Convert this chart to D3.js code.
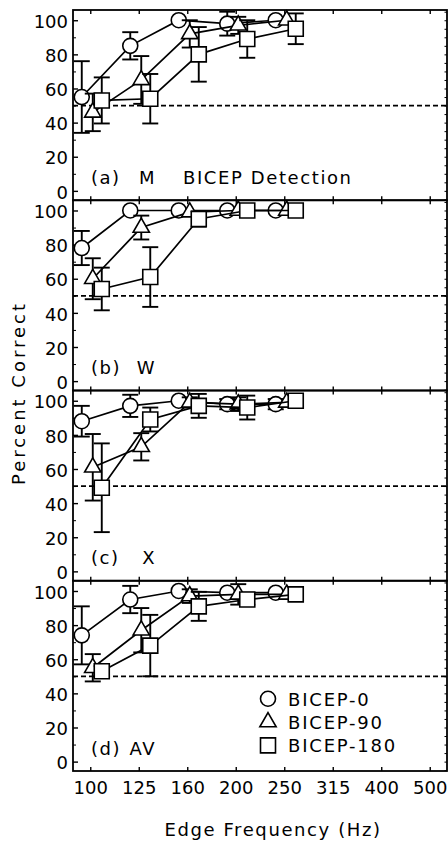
<!DOCTYPE html>
<html>
<head>
<meta charset="utf-8">
<script src="https://cdn.jsdelivr.net/npm/d3@7"></script>
<style>
  body { margin: 0; background: #fff; }
  svg { display: block; }
  text { font-family: "DejaVu Sans", sans-serif; fill: #000; }
</style>
</head>
<body>
<div id="chart"></div>
<script>
// --------------------------------------
//  Data
// --------------------------------------

const freqLabels = ["100", "125", "160", "200", "250", "315", "400", "500"];
const dataFreqs = ["100", "125", "160", "200", "250"];
const seriesNames = ["BICEP-0", "BICEP-90", "BICEP-180"];
const panelTags = ["(a)", "(b)", "(c)", "(d)"];
const subjects = ["M", "W", "X", "AV"];
const yTicks = [0, 20, 40, 60, 80, 100];

// percent correct (mean) and error bar half-length, per panel and series
const mVals0 = [55, 85, 100, 98, 100];
const mErr0 = [21, 8, 0, 7, 0];
const mVals90 = [46, 65, 92, 97, 100];
const mErr90 = [11, 14, 8, 5, 0];
const mVals180 = [53, 54, 80, 89, 95];
const mErr180 = [13.5, 14.5, 16, 11, 9];

const wVals0 = [78, 100, 100, 100, 100];
const wErr0 = [10, 0, 0, 0, 0];
const wVals90 = [60, 90, 99, 100, 100];
const wErr90 = [12, 7, 0, 0, 0];
const wVals180 = [54, 61, 95, 100, 100];
const wErr180 = [12.5, 17.5, 4.5, 0, 0];

const xVals0 = [88, 97, 100, 98, 98];
const xErr0 = [9, 6.5, 0, 3, 3];
const xVals90 = [61, 73, 99, 98, 99];
const xErr90 = [19.5, 8, 3, 4, 0];
const xVals180 = [49, 89, 97, 96, 100];
const xErr180 = [26, 7, 7, 7, 0];

const avVals0 = [74, 95, 100, 99, 99];
const avErr0 = [17, 8, 0, 0, 0];
const avVals90 = [55, 77, 97, 98, 98];
const avErr90 = [8, 13, 4, 6, 0];
const avVals180 = [53, 68, 91, 95, 98];
const avErr180 = [3, 18, 8.5, 3, 0];

const chance = 50;

const panelValues = [
  [[mVals0, mErr0], [mVals90, mErr90], [mVals180, mErr180]],
  [[wVals0, wErr0], [wVals90, wErr90], [wVals180, wErr180]],
  [[xVals0, xErr0], [xVals90, xErr90], [xVals180, xErr180]],
  [[avVals0, avErr0], [avVals90, avErr90], [avVals180, avErr180]]
];

// --------------------------------------
//  Margin and canvas
// --------------------------------------

const width = 448;
const height = 844;
const frame = {left: 73, right: 447, top: 10, bottom: 771};
const panelH = (frame.bottom - frame.top) / subjects.length;

const svg = d3.select("#chart")
  .append("svg")
    .attr("width", width)
    .attr("height", height);

// --------------------------------------
//  Scales
// --------------------------------------

const x = d3.scalePoint()
    .domain(freqLabels)
    .range([frame.left, frame.right])
    .padding(0.356);

const yBase = d3.scaleLinear()
    .domain([-5.5, 106])
    .range([panelH, 0]);

const symbols = [d3.symbolCircle, d3.symbolTriangle, d3.symbolSquare];
const symbolSize = [177, 115, 225];
const dodge = [-8.5, 2.5, 11.5];

// --------------------------------------
//  Panels
// --------------------------------------

subjects.forEach((subject, i) => {

  const y0 = frame.top + i * panelH;
  const g = svg.append("g")
      .attr("transform", `translate(0, ${y0})`);

  // axes
  const yLeft = g.append("g")
      .attr("transform", `translate(${frame.left}, 0)`)
      .call(d3.axisLeft(yBase)
          .tickValues(yTicks)
          .tickSize(-5)
          .tickPadding(5));
  yLeft.select(".domain").remove();
  yLeft.selectAll("text")
      .attr("font-family", "DejaVu Sans")
      .attr("font-size", 18)
      .attr("dy", "0.4em");
  yLeft.selectAll("line").attr("stroke-width", 1.4);

  const yMinor = g.append("g")
      .attr("transform", `translate(${frame.left}, 0)`)
      .call(d3.axisLeft(yBase)
          .tickValues([10, 30, 50, 70, 90])
          .tickSize(-3)
          .tickFormat(""));
  yMinor.select(".domain").remove();

  const yRight = g.append("g")
      .attr("transform", `translate(${frame.right}, 0)`)
      .call(d3.axisRight(yBase)
          .tickValues(d3.range(-5, 106, 5))
          .tickSize(-2.5)
          .tickFormat(""));
  yRight.select(".domain").remove();

  const xTop = g.append("g")
      .call(d3.axisTop(x).tickSize(-4).tickFormat(""));
  xTop.select(".domain").remove();
  xTop.selectAll("line").attr("stroke-width", 1.4);

  const xBottom = g.append("g")
      .attr("transform", `translate(0, ${panelH})`)
      .call(d3.axisBottom(x)
          .tickSize(-4)
          .tickPadding(10)
          .tickFormat(i === subjects.length - 1 ? d => d : ""));
  xBottom.select(".domain").remove();
  xBottom.selectAll("line").attr("stroke-width", 1.4);
  xBottom.selectAll("text")
      .attr("font-family", "DejaVu Sans")
      .attr("font-size", 18);

  // frame
  g.append("rect")
      .attr("x", frame.left)
      .attr("y", 0)
      .attr("width", frame.right - frame.left)
      .attr("height", panelH)
      .attr("fill", "none")
      .attr("stroke", "#000")
      .attr("stroke-width", 1.8);

  // chance line
  g.append("line")
      .attr("x1", frame.left)
      .attr("x2", frame.right)
      .attr("y1", yBase(chance))
      .attr("y2", yBase(chance))
      .attr("stroke", "#000")
      .attr("stroke-width", 1.8)
      .attr("stroke-dasharray", "5,3");

  // labels
  g.append("text")
      .attr("x", 91)
      .attr("y", yBase(0) - 7)
      .attr("font-size", 18)
      .attr("letter-spacing", 1.5)
      .text(panelTags[i]);

  g.append("text")
      .attr("x", 156)
      .attr("y", yBase(0) - 7)
      .attr("text-anchor", "end")
      .attr("font-size", 18)
      .attr("letter-spacing", 1.5)
      .text(subject);

  if (i === 0) {
    g.append("text")
        .attr("x", 183)
        .attr("y", yBase(0) - 7)
        .attr("font-size", 18)
        .attr("letter-spacing", 1.6)
        .text("BICEP Detection");
  }

  // series
  panelValues[i].forEach(([vals, errs], s) => {
    const pts = dataFreqs.map((f, k) => ({
      px: x(f) + dodge[s],
      v: vals[k],
      e: errs[k]
    }));

    g.append("path")
        .datum(pts)
        .attr("fill", "none")
        .attr("stroke", "#000")
        .attr("stroke-width", 1.7)
        .attr("d", d3.line().x(d => d.px).y(d => yBase(d.v)));

    const eb = g.append("g")
        .selectAll("g")
        .data(pts.filter(d => d.e > 0))
        .join("g")
        .attr("stroke", "#000")
        .attr("stroke-width", 1.9);
    eb.append("line")
        .attr("x1", d => d.px).attr("x2", d => d.px)
        .attr("y1", d => yBase(d.v - d.e))
        .attr("y2", d => yBase(d.v + d.e));
    eb.append("line")
        .attr("x1", d => d.px - 8).attr("x2", d => d.px + 8)
        .attr("y1", d => yBase(d.v - d.e))
        .attr("y2", d => yBase(d.v - d.e));
    eb.append("line")
        .attr("x1", d => d.px - 8).attr("x2", d => d.px + 8)
        .attr("y1", d => yBase(d.v + d.e))
        .attr("y2", d => yBase(d.v + d.e));

    g.append("g")
        .selectAll("path")
        .data(pts)
        .join("path")
        .attr("transform", d => `translate(${d.px}, ${yBase(d.v)})`)
        .attr("d", d3.symbol().type(symbols[s]).size(symbolSize[s]))
        .attr("fill", "#fff")
        .attr("stroke", "#000")
        .attr("stroke-width", 1.6);
  });

  // legend in last panel
  if (i === subjects.length - 1) {
    const lg = g.selectAll(".legend")
        .data(seriesNames)
        .join("g")
        .attr("class", "legend")
        .attr("transform", (d, k) => `translate(268, ${118 + k * 23.3})`);
    lg.append("path")
        .attr("d", (d, k) => d3.symbol().type(symbols[k]).size(symbolSize[k])())
        .attr("fill", "#fff")
        .attr("stroke", "#000")
        .attr("stroke-width", 1.6);
    lg.append("text")
        .attr("x", 20)
        .attr("y", 7)
        .attr("font-size", 18)
        .attr("letter-spacing", 1.8)
        .text(d => d);
  }
});

// --------------------------------------
//  Axis titles
// --------------------------------------

svg.append("text")
    .attr("x", 273)
    .attr("y", 836)
    .attr("text-anchor", "middle")
    .attr("font-size", 18)
    .attr("letter-spacing", 1.6)
    .text("Edge Frequency (Hz)");

svg.append("text")
    .attr("transform", "translate(25, 393) rotate(-90)")
    .attr("text-anchor", "middle")
    .attr("font-size", 18)
    .attr("letter-spacing", 3)
    .text("Percent Correct");
</script>
</body>
</html>
